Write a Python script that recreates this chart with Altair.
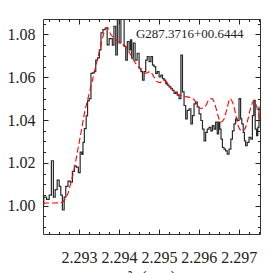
import altair as alt
import pandas as pd

# Observed spectrum (continuum normalised)
spec_wave = [2.29209, 2.29215, 2.29223, 2.29228, 2.29234, 2.29238, 2.29243, 2.29248, 2.29253, 2.29256,
             2.29261, 2.29265, 2.29269, 2.29276, 2.29281, 2.29286, 2.29291, 2.29296, 2.29301, 2.29305,
             2.29309, 2.29311, 2.29316, 2.29320, 2.29323, 2.29328, 2.29332, 2.29336, 2.29340, 2.29344,
             2.29349, 2.29353, 2.29357, 2.29363, 2.29368, 2.29373, 2.29378, 2.29382, 2.29385, 2.29390,
             2.29394, 2.29398, 2.29403, 2.29407, 2.29411, 2.29415, 2.29419, 2.29423, 2.29428, 2.29430,
             2.29434, 2.29438, 2.29443, 2.29448, 2.29453, 2.29457, 2.29461, 2.29465, 2.29469, 2.29473,
             2.29478, 2.29482, 2.29486, 2.29490, 2.29494, 2.29498, 2.29503, 2.29507, 2.29511, 2.29515,
             2.29519, 2.29523, 2.29528, 2.29532, 2.29536, 2.29540, 2.29544, 2.29548, 2.29553, 2.29557,
             2.29561, 2.29565, 2.29569, 2.29573, 2.29578, 2.29582, 2.29586, 2.29590, 2.29594, 2.29598,
             2.29603, 2.29607, 2.29611, 2.29615, 2.29619, 2.29623, 2.29628, 2.29632, 2.29636, 2.29640,
             2.29644, 2.29648, 2.29651, 2.29654, 2.29657, 2.29661, 2.29665, 2.29669, 2.29673, 2.29678,
             2.29682, 2.29686, 2.29690, 2.29694, 2.29698, 2.29703, 2.29706, 2.29709, 2.29713, 2.29715,
             2.29719, 2.29723, 2.29728, 2.29732, 2.29736, 2.29739, 2.29743, 2.29746, 2.29749, 2.29752]
spec_flux = [1.0005, 1.004, 1.003, 1.005, 1.021, 1.004, 1.0075, 1.012, 1.009, 1.005,
             0.998, 1.004, 1.009, 1.0115, 1.011, 1.016, 1.0185, 1.018, 1.0155, 1.025,
             1.024, 1.0296, 1.036, 1.042, 1.049, 1.050, 1.0618, 1.062, 1.0626, 1.068,
             1.069, 1.0728, 1.0807, 1.0822, 1.083, 1.0751, 1.078, 1.078, 1.075, 1.0838,
             1.0704, 1.092, 1.076, 1.092, 1.09, 1.0744, 1.068, 1.0767, 1.0728, 1.0775,
             1.0689, 1.076, 1.068, 1.0712, 1.0642, 1.0626, 1.0587, 1.0626, 1.068, 1.0697,
             1.0673, 1.0697, 1.0657, 1.065, 1.0618, 1.0626, 1.0602, 1.061, 1.0594, 1.0587,
             1.057, 1.0563, 1.0555, 1.0547, 1.0539, 1.0524, 1.0531, 1.0516, 1.050, 1.0704,
             1.0532, 1.0468, 1.0406, 1.0445, 1.0453, 1.0382, 1.0421, 1.0476, 1.0484, 1.0461,
             1.0429, 1.0398, 1.0358, 1.0303, 1.0343, 1.0358, 1.0366, 1.035, 1.0374, 1.0358,
             1.039, 1.0335, 1.039, 1.0358, 1.0311, 1.0272, 1.0264, 1.0256, 1.0241, 1.0264,
             1.0311, 1.035, 1.0382, 1.0406, 1.0398, 1.050, 1.0406, 1.0382, 1.0343, 1.0303,
             1.028, 1.0296, 1.0319, 1.0311, 1.0421, 1.0492, 1.0358, 1.0327, 1.0366, 1.0461]

# Model (red dashed)
model_wave = [2.2921, 2.2924, 2.29258, 2.29265, 2.29273, 2.2928, 2.29288, 2.29295, 2.29303, 2.29313,
              2.29323, 2.29333, 2.29343, 2.29353, 2.2936, 2.29366, 2.29371, 2.29378, 2.2939, 2.29403,
              2.29415, 2.29428, 2.2944, 2.29453, 2.29463, 2.2947, 2.29478, 2.29485, 2.29495, 2.29503,
              2.2951, 2.29518, 2.29528, 2.2954, 2.29553, 2.29565, 2.29578, 2.29588, 2.29595, 2.29603,
              2.2961, 2.29618, 2.29625, 2.29633, 2.2964, 2.29648, 2.29655, 2.29663, 2.2967, 2.29678,
              2.29685, 2.29693, 2.297, 2.29708, 2.29715, 2.29723, 2.2973, 2.29738, 2.29745, 2.29753]
model_flux = [1.0013, 1.0013, 1.0015, 1.003, 1.006, 1.011, 1.017, 1.024, 1.032, 1.0425,
              1.0505, 1.058, 1.066, 1.0735, 1.079, 1.0825, 1.0833, 1.0805, 1.078, 1.076,
              1.0745, 1.071, 1.067, 1.064, 1.0618, 1.062, 1.0627, 1.061, 1.058, 1.0575,
              1.0587, 1.058, 1.0555, 1.053, 1.0516, 1.051, 1.0505, 1.0495, 1.0475, 1.0455,
              1.0455, 1.047, 1.0495, 1.050, 1.0475, 1.042, 1.039, 1.0405, 1.045, 1.050,
              1.048, 1.042, 1.0365, 1.035, 1.0358, 1.0405, 1.046, 1.049, 1.046, 1.040]

# Ticks
x_major = [2.293, 2.294, 2.295, 2.296, 2.297]
x_minor = [2.29225, 2.2925, 2.29275, 2.293, 2.29325, 2.2935, 2.29375, 2.294, 2.29425, 2.2945,
           2.29475, 2.295, 2.29525, 2.2955, 2.29575, 2.296, 2.29625, 2.2965, 2.29675, 2.297,
           2.29725, 2.2975]
y_major = [1.00, 1.02, 1.04, 1.06, 1.08]
y_minor = [0.99, 0.995, 1.0, 1.005, 1.01, 1.015, 1.02, 1.025, 1.03, 1.035, 1.04, 1.045,
           1.05, 1.055, 1.06, 1.065, 1.07, 1.075, 1.08, 1.085]

label_text = ["G287.3716+00.6444"]
label_x = [2.29712]
label_y = [1.0783]

x_domain = [2.2921, 2.29753]
y_domain = [0.9868, 1.0872]

W, H = 217, 215
FONT = "Liberation Serif"
INK = "#222222"

spec = pd.DataFrame({"w": spec_wave, "f": spec_flux})
model = pd.DataFrame({"w": model_wave, "f": model_flux})
lab = pd.DataFrame({"w": label_x, "f": label_y, "t": label_text})

xs = alt.Scale(domain=x_domain, nice=False, zero=False)
ys = alt.Scale(domain=y_domain, nice=False, zero=False)


def tick_axis(orient, values, size, offset):
    return alt.Axis(orient=orient, values=values, tickSize=size, offset=offset,
                    labels=False, domain=False, grid=False, title=None,
                    tickColor=INK, tickWidth=1)


spec_layer = alt.Chart(spec).mark_line(
    interpolate="step", color="#2a2a2a", strokeWidth=1.2, clip=True
).encode(
    x=alt.X("w:Q", scale=xs, axis=alt.Axis(
        orient="bottom", values=x_major, format=".3f", ticks=False, domain=False,
        grid=False, labelFont=FONT, labelFontSize=16, labelColor=INK,
        labelPadding=15, labelOverlap=False, labelFlush=False,
        title="λ (μm)", titleFont=FONT, titleFontSize=18, titleFontWeight="normal",
        titleColor=INK, titleY=49, titleBaseline="alphabetic")),
    y=alt.Y("f:Q", scale=ys, axis=alt.Axis(
        orient="left", values=y_major, format=".2f", ticks=False, domain=False,
        grid=False, labelFont=FONT, labelFontSize=16, labelColor=INK,
        labelPadding=8, labelOverlap=False, labelFlush=False,
        title="Fλ (continuum normalized)", titleFont=FONT, titleFontSize=18,
        titleFontWeight="normal", titleColor=INK, titleX=-40,
        titleBaseline="alphabetic")),
)

model_layer = alt.Chart(model).mark_line(
    interpolate="monotone", color="#ff0000", strokeWidth=1.1,
    strokeDash=[6, 3], clip=True
).encode(
    x=alt.X("w:Q", scale=xs, axis=tick_axis("top", x_major, 5, -H)),
    y=alt.Y("f:Q", scale=ys, axis=tick_axis("left", y_major, 5, -W)),
)

minor_in_a = alt.Chart(spec).mark_line(strokeOpacity=0).encode(
    x=alt.X("w:Q", scale=xs, axis=tick_axis("top", x_minor, 2.5, -H)),
    y=alt.Y("f:Q", scale=ys, axis=tick_axis("left", y_minor, 2.5, -W)),
)
major_in_b = alt.Chart(spec).mark_line(strokeOpacity=0).encode(
    x=alt.X("w:Q", scale=xs, axis=tick_axis("bottom", x_major, 5, -H)),
    y=alt.Y("f:Q", scale=ys, axis=tick_axis("right", y_major, 5, -W)),
)
minor_in_b = alt.Chart(spec).mark_line(strokeOpacity=0).encode(
    x=alt.X("w:Q", scale=xs, axis=tick_axis("bottom", x_minor, 2.5, -H)),
    y=alt.Y("f:Q", scale=ys, axis=tick_axis("right", y_minor, 2.5, -W)),
)

text_layer = alt.Chart(lab).mark_text(
    align="right", baseline="alphabetic", font=FONT, fontSize=13, color=INK
).encode(
    x=alt.X("w:Q", scale=xs, axis=None),
    y=alt.Y("f:Q", scale=ys, axis=None),
    text="t:N",
)

chart = alt.layer(
    spec_layer, model_layer, minor_in_a, major_in_b, minor_in_b, text_layer
).resolve_axis(
    x="independent", y="independent"
).properties(
    width=W, height=H,
    padding={"left": 35, "top": 11, "right": 5, "bottom": 39},
    autosize=alt.AutoSizeParams(type="none"),
    background="white",
).configure_view(
    stroke="#333333", strokeWidth=1
)

chart.save("out.html", embed_options={"renderer": "svg", "actions": False})
